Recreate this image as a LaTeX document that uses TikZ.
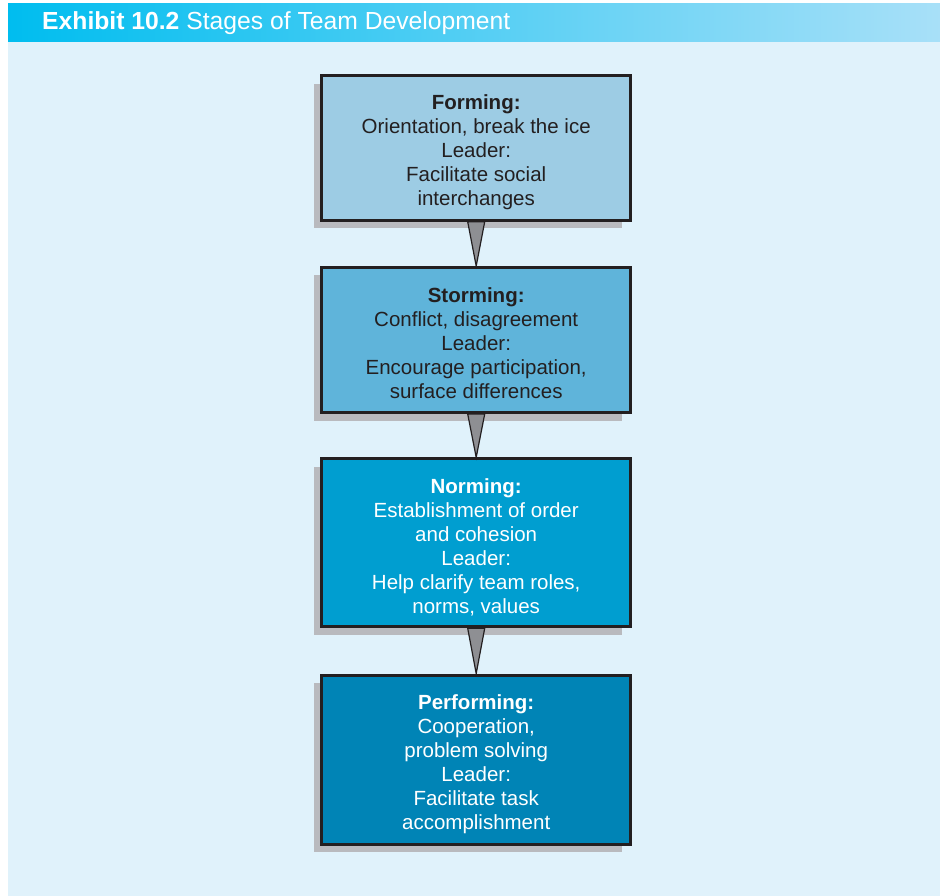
\documentclass[tikz,border=0pt]{standalone}
\usepackage{fontspec}
\setmainfont{Liberation Sans}
\usetikzlibrary{shadows,calc}

\definecolor{panel}{HTML}{E0F2FB}
\definecolor{bannerL}{HTML}{00BDEF}
\definecolor{bannerR}{HTML}{A8E0F8}
\definecolor{formC}{HTML}{9DCCE4}
\definecolor{stormC}{HTML}{5FB4DA}
\definecolor{normC}{HTML}{009ED0}
\definecolor{perfC}{HTML}{0084B6}
\definecolor{shade}{HTML}{B9BABE}
\definecolor{ink}{HTML}{231F20}
\definecolor{arrowgray}{HTML}{8E8F93}

\tikzset{
  stagebox/.style={draw=ink, line width=3pt, minimum width=308.5pt,
    inner sep=0pt,
    drop shadow={shadow xshift=-8pt, shadow yshift=-8pt, fill=shade, opacity=1}},
  stagetext/.style={align=center, inner sep=0pt,
    font=\fontsize{20.5}{24}\selectfont},
  pointer/.style={draw=ink, line width=1.2pt, fill=arrowgray, line join=miter}
}

\begin{document}
\begin{tikzpicture}[x=1pt,y=-1pt]
  \useasboundingbox (0,0) rectangle (940,896);
  \fill[white] (0,0) rectangle (940,896);
  % panel and title banner
  \fill[panel] (8,42) rectangle (940,896);
  \shade[left color=bannerL, right color=bannerR] (8,4) rectangle (940,42);
  \node[anchor=base west, text=white, inner sep=0pt,
        font=\fontsize{24.7}{28}\selectfont] (title) at (42,29.5)
        {\textbf{Exhibit 10.2} Stages of Team Development};

  % the four stage boxes
  \node[stagebox, fill=formC,  minimum height=144.5pt] (form)  at (476.2,148) {};
  \node[stagebox, fill=stormC, minimum height=145pt]   (storm) at (476.2,340) {};
  \node[stagebox, fill=normC,  minimum height=168pt]   (norm)  at (476.2,542.8) {};
  \node[stagebox, fill=perfC,  minimum height=169pt]   (perf)  at (476.2,759.5) {};

  % their texts
  \node[stagetext, text=ink] (formtxt) at ($(form)+(0,4)$)
    {\textbf{Forming:}\\Orientation, break the ice\\Leader:\\Facilitate social\\interchanges};
  \node[stagetext, text=ink] (stormtxt) at ($(storm)+(0,3.5)$)
    {\textbf{Storming:}\\Conflict, disagreement\\Leader:\\Encourage participation,\\surface differences};
  \node[stagetext, text=white] (normtxt) at ($(norm)+(0,4.5)$)
    {\textbf{Norming:}\\Establishment of order\\and cohesion\\Leader:\\Help clarify team roles,\\norms, values};
  \node[stagetext, text=white] (perftxt) at ($(perf)+(0,5)$)
    {\textbf{Performing:}\\Cooperation,\\problem solving\\Leader:\\Facilitate task\\accomplishment};

  % wedge-shaped pointers between stages
  \foreach \a/\b in {form/storm, storm/norm, norm/perf}{
    \draw[pointer] ($(\a.south)+(-8.5,0)$) -- (\b.north) -- ($(\a.south)+(8.5,0)$) -- cycle;
  }
\end{tikzpicture}
\end{document}
